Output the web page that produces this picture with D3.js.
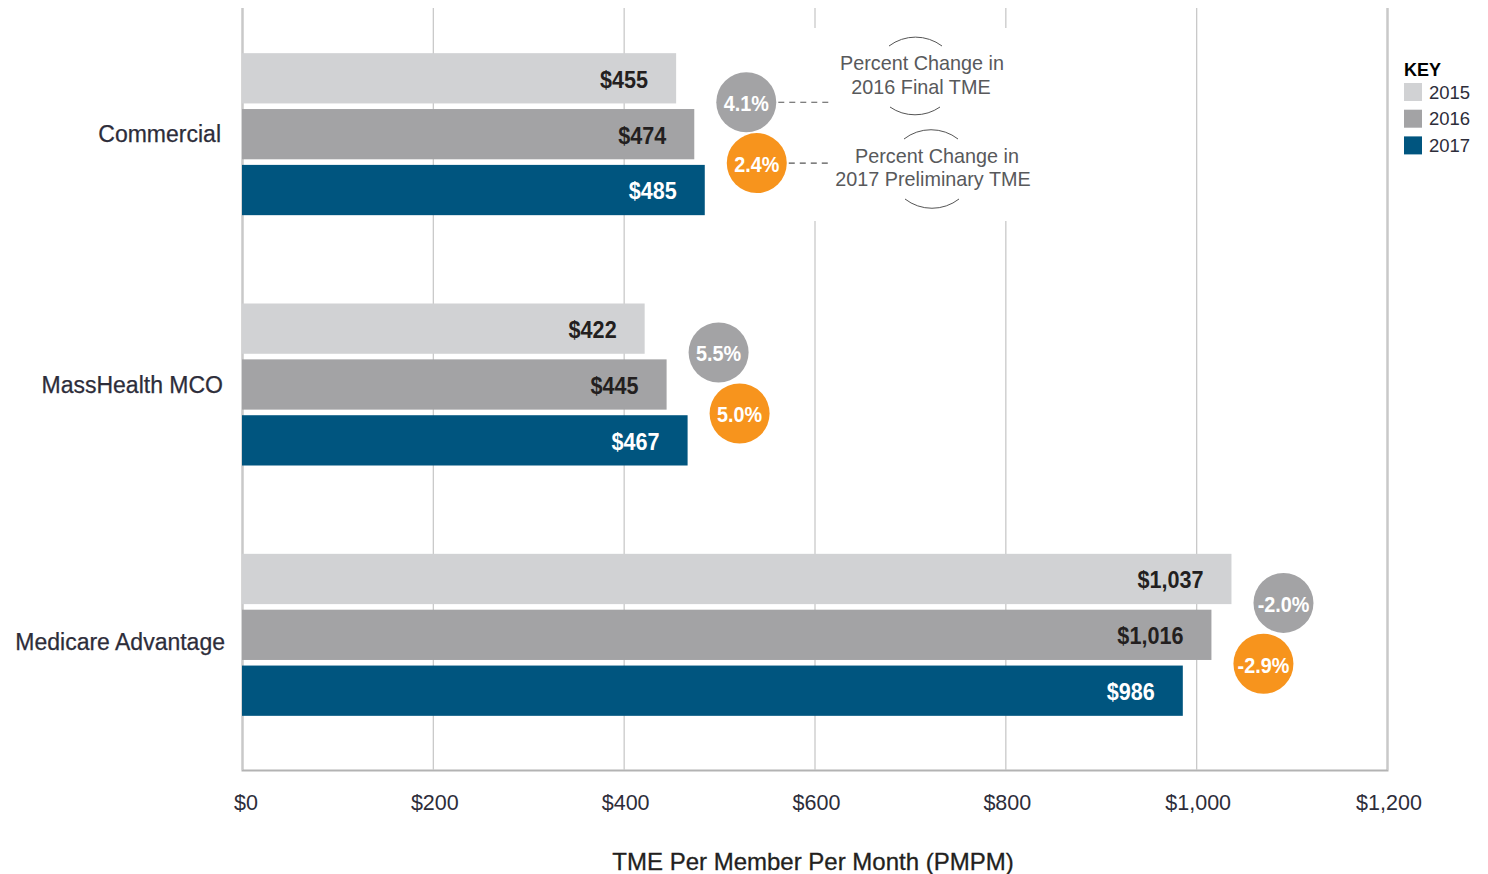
<!DOCTYPE html>
<html>
<head>
<meta charset="utf-8">
<script src="https://cdn.jsdelivr.net/npm/d3@7"></script>
<style>
  body { margin: 0; background: #fff; }
  svg { display: block; font-family: "Liberation Sans", Arial, sans-serif; }
</style>
</head>
<body>
<svg id="chart"></svg>
<script>
// Data
const categories = ["Commercial", "MassHealth MCO", "Medicare Advantage"];
const years = ["2015", "2016", "2017"];
const tme2015 = [455, 422, 1037];
const tme2016 = [474, 445, 1016];
const tme2017 = [485, 467, 986];
const change2016 = [4.1, 5.5, -2.0];
const change2017 = [2.4, 5.0, -2.9];
const xTicks = [0, 200, 400, 600, 800, 1000, 1200];

const yearColors = ["#d1d2d4", "#a3a3a5", "#00557f"];
const labelColors = ["#231f20", "#231f20", "#ffffff"];
const orange = "#f7941d";

const width = 1488, height = 874;
const plotTop = 8, plotBottom = 770;

const svg = d3.select("#chart").attr("width", width).attr("height", height);

// Scales
const x = d3.scaleLinear().domain([0, 1200]).range([242, 1387]);
const y0 = d3.scaleBand().domain(categories).range([9, 760]);
const y1 = d3.scaleBand().domain(years).range([-81, 81]).paddingInner(0.1);

const series = [tme2015, tme2016, tme2017];

// Gridlines + axis
const xAxis = d3.axisBottom(x)
  .tickValues(xTicks)
  .tickSize(-(plotBottom - plotTop))
  .tickPadding(0)
  .tickFormat("");

const grid = svg.append("g")
  .attr("transform", `translate(0, ${plotBottom})`)
  .call(xAxis);
grid.select(".domain").attr("stroke", "#b3b3b3").attr("stroke-width", 2);
grid.selectAll(".tick line").attr("stroke", "#c9c9c9").attr("stroke-width", 1.3);

// Tick labels
svg.append("g")
  .selectAll("text")
  .data(xTicks)
  .enter()
  .append("text")
  .attr("x", (d) => x(d) + (d === 0 ? 4 : 2))
  .attr("y", 810)
  .attr("text-anchor", "middle")
  .style("font-size", "21.5px")
  .style("fill", "#2d2d3a")
  .text((d) => d3.format("$,")(d));

// Axis title
svg.append("text")
  .attr("x", 813)
  .attr("y", 870)
  .attr("text-anchor", "middle")
  .style("font-size", "24px")
  .style("fill", "#231f20")
  .style("stroke", "#231f20")
  .style("stroke-width", 0.3)
  .text("TME Per Member Per Month (PMPM)");

// White box behind annotation
svg.append("rect")
  .attr("x", 803).attr("y", 28)
  .attr("width", 240).attr("height", 193)
  .attr("fill", "#fff");

// Category labels
svg.append("g")
  .selectAll("text")
  .data(categories)
  .enter()
  .append("text")
  .attr("x", (d, i) => 221 + i * 2)
  .attr("y", (d, i) => y0(d) + y0.bandwidth() / 2 + (i === 2 ? 7 : 0))
  .attr("text-anchor", "end")
  .attr("dominant-baseline", "central")
  .style("font-size", "23px")
  .style("fill", "#2d2d3a")
  .style("stroke", "#2d2d3a")
  .style("stroke-width", 0.25)
  .text((d) => d);

// Bars
const groups = svg.selectAll(".group")
  .data(categories)
  .enter()
  .append("g")
  .attr("class", "group")
  .attr("transform", (d) => `translate(0, ${y0(d) + y0.bandwidth() / 2})`);

const condensed = 0.9;

years.forEach((yr, k) => {
  groups.append("rect")
    .attr("x", x(0))
    .attr("y", y1(yr))
    .attr("width", (d, i) => x(series[k][i]) - x(0))
    .attr("height", y1.bandwidth())
    .attr("fill", yearColors[k]);

  groups.append("text")
    .attr("transform", (d, i) =>
      `translate(${x(series[k][i]) - 28}, ${y1(yr) + y1.bandwidth() / 2 + 1}) scale(${condensed}, 1)`)
    .attr("text-anchor", "end")
    .attr("dominant-baseline", "central")
    .style("font-weight", "bold")
    .style("font-size", "24px")
    .style("fill", labelColors[k])
    .text((d, i) => d3.format("$,")(series[k][i]));
});

// Percent change bubbles
const pct = (v) => (v < 0 ? "-" : "") + Math.abs(v).toFixed(1) + "%";
const gap = y1.step() - y1.bandwidth();
const bubbleR = 30;
const bubbleX = (a, b, i) => x(Math.max(a[i], b[i])) + 52;

const bubbleSets = [
  { values: change2016, color: "#a3a3a5", from: tme2015, to: tme2016, yr: years[1], dy: -4 },
  { values: change2017, color: orange, from: tme2016, to: tme2017, yr: years[2], dy: 1 }
];

bubbleSets.forEach((b) => {
  const bg = groups.append("g")
    .attr("transform", (d, i) => `translate(${bubbleX(b.from, b.to, i)}, ${y1(b.yr) - gap / 2 + b.dy})`);
  bg.append("circle").attr("r", bubbleR).attr("fill", b.color);
  bg.append("text")
    .attr("text-anchor", "middle")
    .attr("dominant-baseline", "central")
    .attr("transform", `translate(0, 1) scale(${condensed}, 1)`)
    .style("font-weight", "bold")
    .style("font-size", "22px")
    .style("fill", "#fff")
    .text((d, i) => pct(b.values[i]));
});

// Annotation for the first category
const c0 = y0(categories[0]) + y0.bandwidth() / 2;
const notes = [
  { lines: ["Percent Change in", "2016 Final TME"], bx: bubbleX(tme2015, tme2016, 0), by: c0 + y1(years[1]) - gap / 2 - 4,
    cx: [922, 921], base: [70, 94], arcTop: [889, 942, 46], arcBot: [890, 940, 107] },
  { lines: ["Percent Change in", "2017 Preliminary TME"], bx: bubbleX(tme2016, tme2017, 0), by: c0 + y1(years[2]) - gap / 2 + 1,
    cx: [937, 933], base: [163, 186], arcTop: [904, 958, 139], arcBot: [905, 959, 199] }
];

const ann = svg.append("g");
notes.forEach((n) => {
  ann.append("line")
    .attr("x1", n.bx + bubbleR + 2).attr("x2", 830)
    .attr("y1", n.by).attr("y2", n.by)
    .attr("stroke", "#555").attr("stroke-width", 1.2)
    .attr("stroke-dasharray", "6,5");
  n.lines.forEach((t, j) => {
    ann.append("text")
      .attr("x", n.cx[j]).attr("y", n.base[j])
      .attr("text-anchor", "middle")
      .style("font-size", "19.8px")
      .style("fill", "#58595b")
      .text(t);
  });
  const r = 44;
  ann.append("path")
    .attr("d", `M${n.arcTop[0]},${n.arcTop[2]} A${r},${r} 0 0 1 ${n.arcTop[1]},${n.arcTop[2]}`)
    .attr("fill", "none").attr("stroke", "#555").attr("stroke-width", 1);
  ann.append("path")
    .attr("d", `M${n.arcBot[1]},${n.arcBot[2]} A${r},${r} 0 0 1 ${n.arcBot[0]},${n.arcBot[2]}`)
    .attr("fill", "none").attr("stroke", "#555").attr("stroke-width", 1);
});

// Legend
const legend = svg.append("g").attr("transform", "translate(1404, 0)");
legend.append("text")
  .attr("x", 0).attr("y", 76)
  .style("font-size", "18px")
  .style("font-weight", "bold")
  .style("fill", "#000")
  .text("KEY");
years.forEach((yr, k) => {
  legend.append("rect")
    .attr("x", 0).attr("y", 83 + k * 26.7)
    .attr("width", 18).attr("height", 18)
    .attr("fill", yearColors[k]);
  legend.append("text")
    .attr("x", 25).attr("y", 98.5 + k * 26.7)
    .style("font-size", "18.5px")
    .style("fill", "#2d2d3a")
    .text(yr);
});
</script>
</body>
</html>
